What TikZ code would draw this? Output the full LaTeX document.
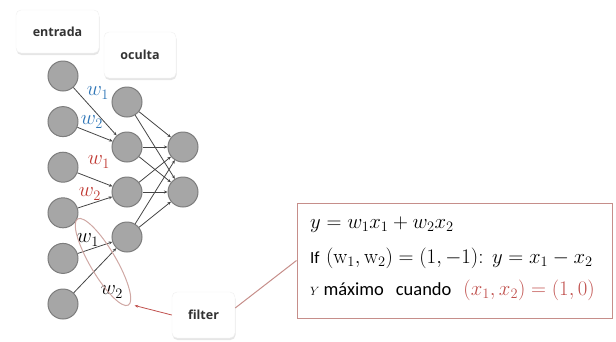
\documentclass[tikz,border=0pt]{standalone}
\usepackage{fontspec}
\setsansfont{Carlito}
\newfontfamily\lblfont{Open Sans}
\usepackage{tikz}
\usetikzlibrary{arrows.meta,shapes.geometric,shadows}
\definecolor{nodegray}{RGB}{166,166,166}
\definecolor{nodeedge}{RGB}{125,125,125}
\definecolor{synline}{RGB}{70,70,70}
\definecolor{wblue}{RGB}{46,117,182}
\definecolor{wred}{RGB}{192,57,50}
\definecolor{fred}{RGB}{192,80,77}
\definecolor{frame}{RGB}{198,142,138}
\definecolor{ringcol}{RGB}{208,168,164}

\begin{document}
\begin{tikzpicture}[x=1pt, y=-1pt,
    neuron/.style={circle, draw=nodeedge, fill=nodegray, line width=1pt,
      minimum size=30pt, inner sep=0pt},
    syn/.style={draw=synline, line width=0.8pt, -{Stealth[length=3.5pt,width=3pt]}},
    tagbox/.style={rounded corners=5pt, fill=white, draw=black!6,
      drop shadow={shadow xshift=0.5pt, shadow yshift=-2pt, opacity=0.2},
      font=\lblfont\bfseries\fontsize{12.5}{14}\selectfont, text=black!80},
    wlab/.style={font=\fontsize{21}{21}\selectfont},
    fline/.style={anchor=west, inner sep=0pt, font=\fontsize{21}{24}\selectfont}]
  \useasboundingbox (0,0) rectangle (616,341);
  % layers
  \foreach \k in {1,...,6}
    \node[neuron] (i\k) at (63,{76+45.6*(\k-1)}) {};
  \foreach \k in {1,...,4}
    \node[neuron] (h\k) at (127,{102+45*(\k-1)}) {};
  \node[neuron] (o1) at (183,147) {};
  \node[neuron] (o2) at (183,192) {};
  \draw[syn] (i1) -- (h2);
  \draw[syn] (i2) -- (h2);
  \draw[syn] (i3) -- (h3);
  \draw[syn] (i4) -- (h3);
  \draw[syn] (i5) -- (h4);
  \draw[syn] (i6) -- (h4);
  \foreach \k in {1,...,4}
    \foreach \m in {1,2}
      \draw[syn] (h\k) -- (o\m);
  % weights
  \node[wlab, wblue] (wb1) at (98,93) {$w_1$};
  \node[wlab, wblue] (wb2) at (92,122) {$w_2$};
  \node[wlab, wred] (wr1) at (99,162) {$w_1$};
  \node[wlab, wred] (wr2) at (90,194) {$w_2$};
  \node[wlab] (wk1) at (88,240) {$w_1$};
  \node[wlab] (wk2) at (112,292) {$w_2$};
  \node[ellipse, draw=ringcol, line width=1pt, rotate=-59.5,
    minimum width=100pt, minimum height=26pt] (flt) at (103,262) {};
  % labels
  \node[tagbox, minimum width=83pt, minimum height=43pt] (inp) at (57.5,31.5) {entrada};
  \node[tagbox, minimum width=72pt, minimum height=46pt] (hid) at (140,55) {oculta};
  \node[tagbox, minimum width=63pt, minimum height=46pt] (filt) at (203.5,315) {filter};
  % formula box
  \node[draw=frame, line width=1pt, minimum width=315pt, minimum height=115pt]
    (fbox) at (454.5,260.5) {};
  \draw[fred, line width=0.8pt, -{Stealth[length=3.5pt,width=3pt]}] (filt.west) -- ([xshift=6pt]flt.east);
  \draw[frame, line width=1pt] ([yshift=7pt]filt.east) -- (fbox.west);
  \node[fline] (eq1) at (310,225) {$y=w_1x_1+w_2x_2$};
  \node[fline] (eq2) at (310,258)
    {{\sffamily\fontsize{17}{18}\selectfont If} $(\mathrm{w}_1,\mathrm{w}_2)=(1,-1)$: $y=x_1-x_2$};
  \node[fline] (eq3) at (310,290)
    {{\fontsize{12.5}{13}\selectfont$Y$}\hspace{4pt}{\sffamily\fontsize{18.5}{20}\selectfont máximo\hspace{12pt}cuando}\hspace{12pt}\textcolor{fred}{\fontsize{21.5}{24}\selectfont$(x_1,x_2)=(1,0)$}};
\end{tikzpicture}
\end{document}
